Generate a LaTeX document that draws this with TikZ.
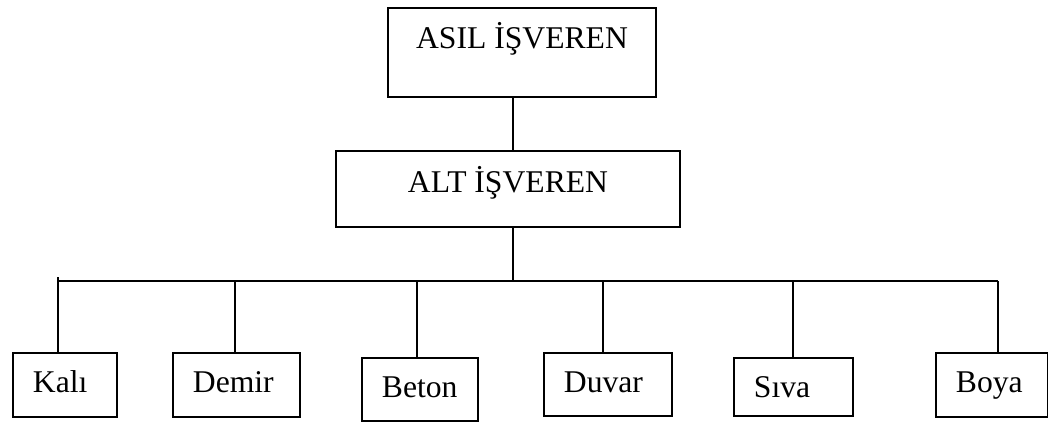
\documentclass[tikz,border=0pt]{standalone}
\usepackage{fontspec}
\setmainfont{Liberation Serif}
\usetikzlibrary{calc}
\tikzset{
  orgbox/.style={draw, line width=1.3pt, inner sep=0pt, font=\fontsize{22.5}{27}\selectfont, anchor=base},
  workbox/.style={orgbox, anchor=base west, inner xsep=0.5cm, align=left, text height=0.98cm},
  link/.style={line width=1.3pt}
}
\newcommand{\worknode}[6]{\node[workbox, text width=#4, text depth=#5] (#1) at (#2,#3) {#6};}

\begin{document}
\begin{tikzpicture}[x=0.025cm,y=-0.025cm]
\useasboundingbox (0,0) rectangle (1048,424);

%nodes
\node[orgbox, minimum width=6.7cm, text height=1cm, text depth=1.225cm] (asil) at (522,48) {ASIL İŞVEREN};
\node[orgbox, minimum width=8.6cm, text height=1.025cm, text depth=0.875cm] (alt) at (508,192) {ALT İŞVEREN};

\worknode{kali}{12}{392}{1.6cm}{0.625cm}{Kalı}
\worknode{demir}{172}{392}{2.175cm}{0.625cm}{Demir}
\worknode{beton}{361}{397}{1.9cm}{0.6cm}{Beton}
\worknode{duvar}{543}{392}{2.2cm}{0.6cm}{Duvar}
\worknode{siva}{733}{397}{1.975cm}{0.475cm}{Sıva}
\worknode{boya}{935}{392}{1.8cm}{0.625cm}{Boya}

%edges
\coordinate (trunk) at (513,281);
\coordinate (bkali) at (58,277);
\coordinate (bdemir) at (235,281);
\coordinate (bbeton) at (417,281);
\coordinate (bduvar) at (603,281);
\coordinate (bsiva) at (793,281);
\coordinate (bboya) at (998,281);

\draw[link] (asil.south -| trunk) -- (alt.north -| trunk);
\draw[link] (alt.south -| trunk) -- (trunk);
\draw[link] (bkali |- trunk) -- (bboya);

\draw[link] (bkali) -- (bkali |- kali.north);
\draw[link] (bdemir) -- (bdemir |- demir.north);
\draw[link] (bbeton) -- (bbeton |- beton.north);
\draw[link] (bduvar) -- (bduvar |- duvar.north);
\draw[link] (bsiva) -- (bsiva |- siva.north);
\draw[link] (bboya) -- (bboya |- boya.north);

\end{tikzpicture}
\end{document}
